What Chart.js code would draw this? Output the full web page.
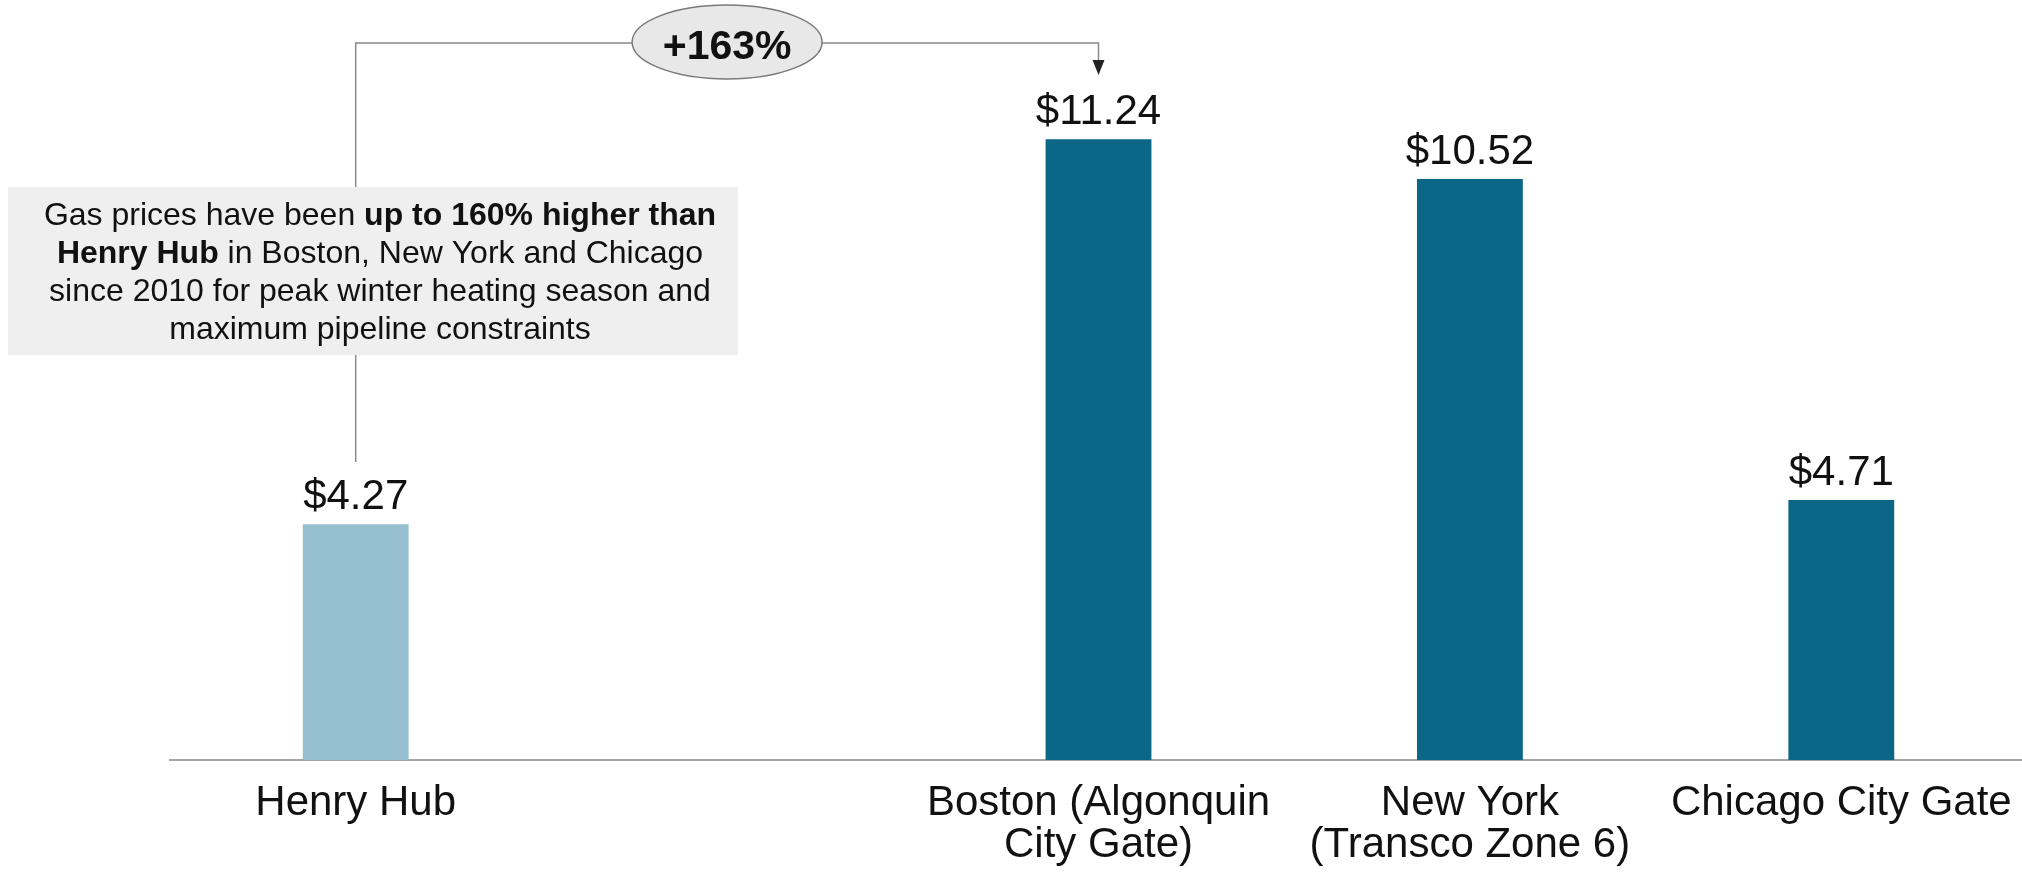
<!DOCTYPE html>
<html>
<head>
<meta charset="utf-8">
<script src="https://cdn.jsdelivr.net/npm/chart.js@4.4.0/dist/chart.umd.min.js"></script>
<style>
  html, body { margin: 0; padding: 0; background: #fff; overflow: hidden; }
  #wrap { width: 2022px; height: 877px; overflow: hidden; }
</style>
</head>
<body>
<div id="wrap"><canvas id="priceChart" width="2040" height="877"></canvas></div>
<script>
// peak winter gas prices ($/MMBtu), one empty slot between Henry Hub and Boston
const categories = [['Henry Hub'], [''], ['Boston (Algonquin', 'City Gate)'], ['New York', '(Transco Zone 6)'], ['Chicago City Gate']];
const prices = [4.27, null, 11.24, 10.52, 4.71];
const priceLabels = ['$4.27', '', '$11.24', '$10.52', '$4.71'];
const barColors = ['#95bfce', '#0b6785', '#0b6785', '#0b6785', '#0b6785'];
const increaseLabel = '+163%';
const noteLines = [
  [['Gas prices have been ', false], ['up to 160% higher than', true]],
  [['Henry Hub', true], [' in Boston, New York and Chicago', false]],
  [['since 2010 for peak winter heating season and', false]],
  [['maximum pipeline constraints', false]]
];

const FONT = '"Liberation Sans", Arial, Helvetica, sans-serif';

const valueLabels = {
  id: 'valueLabels',
  afterDatasetsDraw(chart) {
    const ctx = chart.ctx;
    const meta = chart.getDatasetMeta(0);
    ctx.save();
    ctx.font = '42px ' + FONT;
    ctx.fillStyle = '#111';
    ctx.textAlign = 'center';
    ctx.textBaseline = 'alphabetic';
    meta.data.forEach((bar, i) => {
      if (prices[i] == null) return;
      ctx.fillText(priceLabels[i], bar.x, bar.y - 15);
    });
    ctx.restore();
  }
};

// connector from Henry Hub to Boston with the % bubble and the note box
const callout = {
  id: 'callout',
  afterDraw(chart) {
    const ctx = chart.ctx;
    const xs = chart.scales.x;
    const hubX = xs.getPixelForValue(0);
    const bosX = xs.getPixelForValue(2);
    const midX = (hubX + bosX) / 2;
    const lineY = 43;

    ctx.save();
    ctx.strokeStyle = '#8a8a8a';
    ctx.lineWidth = 1.5;
    ctx.beginPath();
    ctx.moveTo(hubX, 462);
    ctx.lineTo(hubX, lineY);
    ctx.lineTo(bosX, lineY);
    ctx.lineTo(bosX, 62);
    ctx.stroke();

    ctx.fillStyle = '#222';
    ctx.beginPath();
    ctx.moveTo(bosX - 6, 60);
    ctx.lineTo(bosX + 6, 60);
    ctx.lineTo(bosX, 75);
    ctx.closePath();
    ctx.fill();

    ctx.beginPath();
    ctx.ellipse(midX, 42, 95, 37, 0, 0, Math.PI * 2);
    ctx.fillStyle = '#e8e8e8';
    ctx.fill();
    ctx.strokeStyle = '#7a7a7a';
    ctx.stroke();
    ctx.fillStyle = '#111';
    ctx.font = 'bold 41px ' + FONT;
    ctx.textAlign = 'center';
    ctx.textBaseline = 'alphabetic';
    ctx.fillText(increaseLabel, midX, 59);

    // note box
    ctx.fillStyle = '#efefef';
    ctx.fillRect(8, 187, 730, 168);
    ctx.fillStyle = '#111';
    ctx.textAlign = 'left';
    const cx = 380;
    const baselines = [225, 263, 301, 339];
    noteLines.forEach((parts, li) => {
      let total = 0;
      parts.forEach(p => {
        ctx.font = (p[1] ? 'bold ' : '') + '32px ' + FONT;
        total += ctx.measureText(p[0]).width;
      });
      let x = cx - total / 2;
      parts.forEach(p => {
        ctx.font = (p[1] ? 'bold ' : '') + '32px ' + FONT;
        ctx.fillText(p[0], x, baselines[li]);
        x += ctx.measureText(p[0]).width;
      });
    });
    ctx.restore();
  }
};

const data = {
  labels: categories,
  datasets: [{
    data: prices,
    backgroundColor: barColors,
    borderWidth: 0,
    barPercentage: 0.285,
    categoryPercentage: 1
  }]
};

const config = {
  type: 'bar',
  data: data,
  options: {
    responsive: false,
    animation: false,
    layout: { padding: { left: 170, right: 13, top: 20, bottom: 0 } },
    plugins: {
      legend: { display: false },
      tooltip: { enabled: false }
    },
    scales: {
      x: {
        grid: { display: false, drawTicks: false },
        border: { display: true, color: '#a5a5a5', width: 2 },
        ticks: {
          color: '#111',
          font: { family: FONT, size: 42, lineHeight: 1.0 },
          padding: 22,
          maxRotation: 0,
          autoSkip: false
        },
        afterFit(scale) { scale.height = 117; }
      },
      y: {
        display: false,
        min: 0,
        max: 13.4
      }
    }
  },
  plugins: [valueLabels, callout]
};

const priceChart = new Chart(document.getElementById('priceChart'), config);
</script>
</body>
</html>
